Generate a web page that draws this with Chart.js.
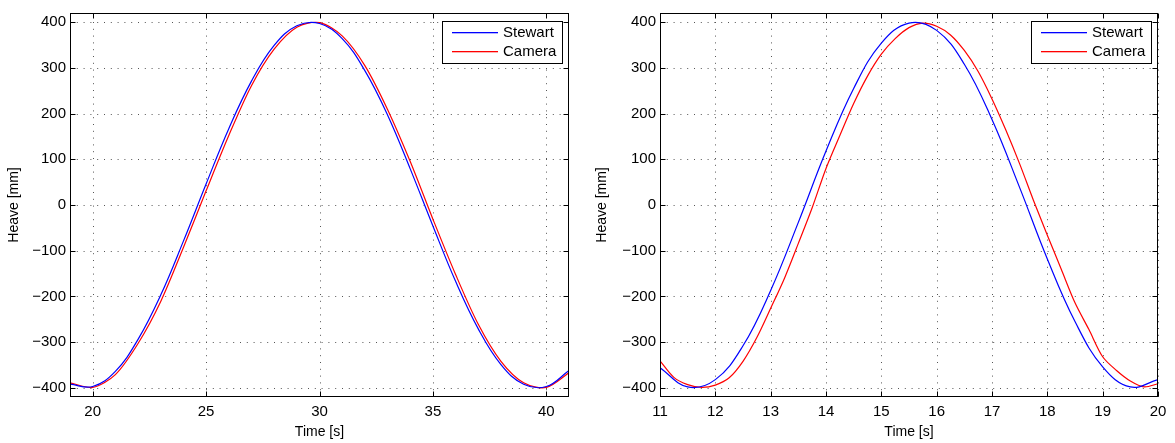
<!DOCTYPE html>
<html>
<head>
<meta charset="utf-8">
<script src="https://cdn.jsdelivr.net/npm/chart.js@4.4.1/dist/chart.umd.min.js"></script>
<style>
  html, body { margin: 0; padding: 0; background: #fff; }
  #wrap { position: relative; width: 1175px; height: 443px; }
  .box { position: absolute; top: 0; height: 443px; }
</style>
</head>
<body>
<div id="wrap">
  <div class="box" style="left:0;width:587px"><canvas id="leftChart" width="587" height="443"></canvas></div>
  <div class="box" style="left:587px;width:588px"><canvas id="rightChart" width="588" height="443"></canvas></div>
</div>
<script>
// left run (slow, ~20 s period)
const leftTime    = [19, 20, 21, 22, 23, 24, 25, 26, 27, 28, 29, 30, 31, 32, 33, 34, 35, 36, 37, 38, 39, 40, 41];
const leftStewart = [-392, -397, -364, -294, -197, -79, 46, 167, 271, 349, 392, 397, 364, 294, 197, 79, -46, -167, -271, -349, -392, -397, -362];
const leftCamera  = [-389, -399, -371, -303, -211, -93, 31, 152, 261, 341, 389, 399, 370, 305, 209, 95, -31, -152, -261, -342, -389, -399, -367];
const leftXTicks  = [20, 25, 30, 35, 40];

// right run (fast, ~8 s period)
const rightStewartTime = [11, 11.5, 12, 12.5, 13, 13.5, 14, 14.5, 15, 15.5, 16, 16.5, 17, 17.5, 18, 18.5, 19, 19.5, 20];
const rightStewart     = [-356, -398, -382, -308, -187, -38, 118, 255, 354, 398, 382, 308, 187, 38, -118, -255, -354, -398, -382];
const rightCameraTime  = [11, 11.25, 11.5, 11.75, 12, 12.25, 12.5, 12.75, 13, 13.25, 13.5, 13.75, 14, 14.25, 14.5, 14.75,
                          15, 15.25, 15.5, 15.75, 16, 16.25, 16.5, 16.75, 17, 17.25, 17.5, 17.75, 18, 18.25, 18.5, 18.75,
                          19, 19.25, 19.5, 19.75, 20];
const rightCamera      = [-341, -377, -393, -399, -394, -378, -342, -290, -226, -160, -84, -6, 80, 152, 222, 282,
                          330, 364, 388, 398, 391, 372, 338, 292, 232, 164, 90, 10, -66, -140, -214, -272,
                          -332, -362, -385, -398, -391];
const rightXTicks = [11, 12, 13, 14, 15, 16, 17, 18, 19, 20];

const yTicks = [-400, -300, -200, -100, 0, 100, 200, 300, 400];
const seriesNames  = ["Stewart", "Camera"];
const seriesColors = ["#0000ff", "#ff0000"];

const FONT = "'Liberation Sans', Arial, Helvetica, sans-serif";

// matlab look: dotted grid, black frame, inward ticks on all sides, boxed legend
const matlabAxes = {
  id: "matlabAxes",
  beforeDatasetsDraw(chart) {
    const { ctx, chartArea: a, scales: { x, y } } = chart;
    ctx.save();
    ctx.strokeStyle = "#555";
    ctx.lineWidth = 1;
    ctx.setLineDash([1, 5.8]);
    x.ticks.forEach(t => {
      const px = Math.round(x.getPixelForValue(t.value)) + 0.5;
      ctx.beginPath(); ctx.moveTo(px, a.bottom); ctx.lineTo(px, a.top); ctx.stroke();
    });
    y.ticks.forEach(t => {
      const py = Math.round(y.getPixelForValue(t.value)) + 0.5;
      ctx.beginPath(); ctx.moveTo(a.left, py); ctx.lineTo(a.right, py); ctx.stroke();
    });
    ctx.restore();
  },
  afterDatasetsDraw(chart) {
    const { ctx, chartArea: a, scales: { x, y } } = chart;
    const L = Math.round(a.left) + 0.5, R = Math.round(a.right) - 0.5;
    const T = Math.round(a.top) + 0.5, B = Math.round(a.bottom) - 0.5;
    const tl = 5;
    ctx.save();
    ctx.setLineDash([]);
    ctx.strokeStyle = "#000";
    ctx.lineWidth = 1;
    ctx.beginPath();
    x.ticks.forEach(t => {
      const px = Math.round(x.getPixelForValue(t.value)) + 0.5;
      ctx.moveTo(px, B); ctx.lineTo(px, B - tl);
      ctx.moveTo(px, T); ctx.lineTo(px, T + tl);
    });
    y.ticks.forEach(t => {
      const py = Math.round(y.getPixelForValue(t.value)) + 0.5;
      ctx.moveTo(L, py); ctx.lineTo(L + tl, py);
      ctx.moveTo(R, py); ctx.lineTo(R - tl, py);
    });
    ctx.stroke();
    ctx.strokeRect(L, T, R - L, B - T);

    // legend
    const bw = 120, bh = 42;
    const bx = Math.round(a.right - 7 - bw), by = Math.round(a.top + 8);
    ctx.fillStyle = "#fff";
    ctx.fillRect(bx, by, bw, bh);
    ctx.strokeStyle = "#000";
    ctx.strokeRect(bx + 0.5, by + 0.5, bw, bh);
    ctx.font = "15px " + FONT;
    ctx.textBaseline = "middle";
    seriesNames.forEach((name, i) => {
      const ly = Math.round(by + 11 + i * 18.5);
      ctx.fillStyle = seriesColors[i];
      ctx.fillRect(bx + 10, ly, 46, 1.3);
      ctx.fillStyle = "#000";
      ctx.fillText(name, bx + 61, ly + 1);
    });
    ctx.restore();
  }
};

function pts(xs, ys) {
  return xs.map((t, i) => ({ x: t, y: ys[i] }));
}

function makeChart(canvas, opts) {
  return new Chart(canvas, {
    type: "line",
    data: {
      datasets: [
        { label: seriesNames[0], data: opts.stewart, borderColor: seriesColors[0], borderWidth: 1.2, pointRadius: 0, tension: 0.4, fill: false },
        { label: seriesNames[1], data: opts.camera,  borderColor: seriesColors[1], borderWidth: 1.2, pointRadius: 0, tension: 0.3, fill: false }
      ]
    },
    options: {
      responsive: false,
      animation: false,
      events: [],
      layout: { padding: { top: 5, right: opts.padRight, bottom: 0, left: 0 } },
      plugins: { legend: { display: false }, tooltip: { enabled: false } },
      scales: {
        x: {
          type: "linear",
          min: opts.xMin,
          max: opts.xMax,
          afterBuildTicks: s => { s.ticks = opts.xTicks.map(v => ({ value: v })); },
          afterFit: s => { s.height = 46; },
          grid: { display: false, drawTicks: false },
          border: { display: false },
          ticks: { color: "#000", font: { family: FONT, size: 15 }, padding: 6, maxRotation: 0, autoSkip: false },
          title: { display: true, text: "Time [s]", color: "#000", font: { family: FONT, size: 14 }, padding: { top: 0, bottom: 2.6 } }
        },
        y: {
          min: -420,
          max: 420,
          afterBuildTicks: s => { s.ticks = yTicks.map(v => ({ value: v })); },
          afterFit: s => { s.width = opts.yWidth; },
          grid: { display: false, drawTicks: false },
          border: { display: false },
          ticks: {
            color: "#000", font: { family: FONT, size: 15 }, padding: 4, autoSkip: false,
            callback: v => String(v).replace("-", "\u2212")
          },
          title: { display: true, text: "Heave [mm]", color: "#000", font: { family: FONT, size: 14 }, padding: { top: opts.titlePad, bottom: 0 } }
        }
      }
    },
    plugins: [matlabAxes]
  });
}

makeChart(document.getElementById("leftChart"), {
  stewart: pts(leftTime, leftStewart),
  camera: pts(leftTime, leftCamera),
  xMin: 19, xMax: 41, xTicks: leftXTicks,
  yWidth: 70, padRight: 18, titlePad: 5.6
});

makeChart(document.getElementById("rightChart"), {
  stewart: pts(rightStewartTime, rightStewart),
  camera: pts(rightCameraTime, rightCamera),
  xMin: 11, xMax: 20, xTicks: rightXTicks,
  yWidth: 73, padRight: 17, titlePad: 6.6
});
</script>
</body>
</html>
